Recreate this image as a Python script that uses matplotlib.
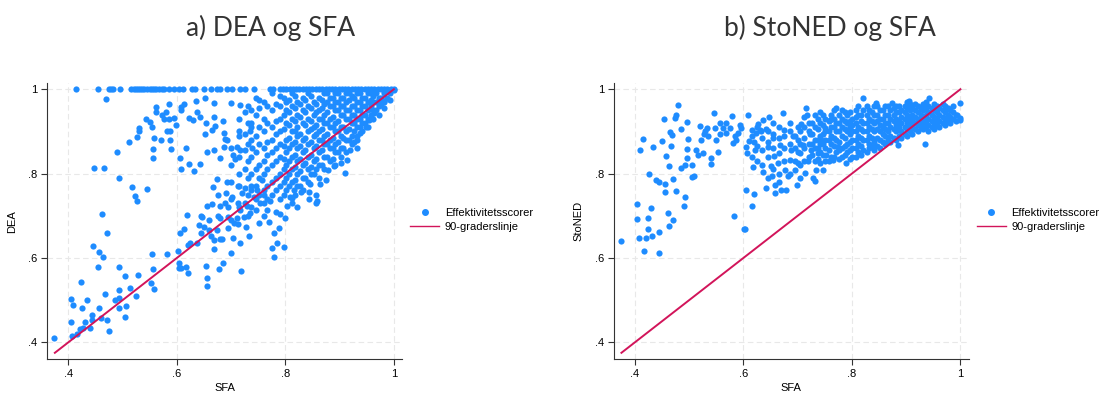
import numpy as np
import matplotlib
matplotlib.use("Agg")
import matplotlib.pyplot as plt
from matplotlib.lines import Line2D

plt.rcParams['font.family'] = ['Liberation Sans', 'DejaVu Sans']

# --- panel a: DEA vs SFA ---
# units with DEA = 1 (SFA values)
dea_one_sfa = [0.414, 0.454, 0.474, 0.478, 0.483, 0.495, 0.516, 0.520, 0.524, 0.528,
               0.532, 0.536, 0.540, 0.545, 0.550, 0.554, 0.558, 0.562, 0.567, 0.572,
               0.576, 0.585, 0.594, 0.603, 0.612, 0.628, 0.634, 0.650, 0.662, 0.674,
               0.680, 0.693, 0.702, 0.717, 0.726, 0.742, 0.772, 0.778, 0.790, 0.796,
               0.802, 0.808, 0.814, 0.820, 0.826, 0.832, 0.838, 0.844, 0.850, 0.856,
               0.862, 0.868, 0.874, 0.880, 0.886, 0.892, 0.898, 0.904, 0.910, 0.916,
               0.922, 0.928, 0.934, 0.940, 0.946, 0.952, 0.958, 0.964, 0.970, 0.976,
               0.982, 0.988, 0.994, 1.0]

# remaining units (SFA, DEA)
dea_points = [
    (0.374, 0.410), (0.407, 0.414), (0.416, 0.419), (0.405, 0.447), (0.404, 0.503),
    (0.409, 0.488), (0.425, 0.482), (0.423, 0.544), (0.434, 0.500), (0.430, 0.448),
    (0.421, 0.432), (0.427, 0.433), (0.439, 0.433), (0.443, 0.465), (0.443, 0.453),
    (0.445, 0.628), (0.454, 0.579), (0.457, 0.613), (0.463, 0.602), (0.457, 0.482),
    (0.462, 0.704), (0.461, 0.457), (0.468, 0.515), (0.471, 0.453), (0.471, 0.660),
    (0.474, 0.427), (0.448, 0.813), (0.465, 0.813), (0.489, 0.852), (0.493, 0.789),
    (0.470, 0.976), (0.511, 0.874), (0.517, 0.769), (0.523, 0.748), (0.527, 0.735),
    (0.544, 0.764), (0.527, 0.887), (0.530, 0.908), (0.530, 0.900), (0.543, 0.930),
    (0.551, 0.922), (0.554, 0.911), (0.557, 0.884), (0.556, 0.858), (0.556, 0.836),
    (0.561, 0.959), (0.562, 0.945), (0.572, 0.939), (0.570, 0.880), (0.576, 0.929),
    (0.580, 0.947), (0.581, 0.901), (0.586, 0.966), (0.586, 0.930), (0.588, 0.901),
    (0.587, 0.880), (0.590, 0.859), (0.598, 0.915), (0.594, 0.931), (0.607, 0.959),
    (0.607, 0.951), (0.613, 0.965), (0.605, 0.836), (0.607, 0.811), (0.617, 0.861),
    (0.622, 0.822), (0.622, 0.931), (0.630, 0.927), (0.632, 0.806), (0.636, 0.973),
    (0.637, 0.945), (0.643, 0.823), (0.643, 0.935), (0.651, 0.979), (0.652, 0.893),
    (0.653, 0.919), (0.656, 0.852), (0.664, 0.904), (0.668, 0.967), (0.668, 0.935),
    (0.668, 0.856), (0.671, 0.912), (0.680, 0.836), (0.685, 0.925), (0.686, 0.896),
    (0.686, 0.864), (0.688, 0.881), (0.693, 0.880), (0.700, 0.967), (0.704, 0.844),
    (0.708, 0.834), (0.711, 0.864), (0.714, 0.888), (0.717, 0.856), (0.717, 0.963),
    (0.734, 0.900), (0.737, 0.919), (0.739, 0.860), (0.752, 0.975),
    (0.494, 0.579), (0.494, 0.524), (0.493, 0.482), (0.485, 0.500), (0.493, 0.504),
    (0.505, 0.558), (0.507, 0.485), (0.505, 0.459), (0.513, 0.529), (0.525, 0.510),
    (0.528, 0.560),
    (0.554, 0.609), (0.556, 0.573), (0.553, 0.540), (0.557, 0.526), (0.582, 0.609),
    (0.602, 0.617), (0.604, 0.587), (0.603, 0.577), (0.608, 0.575), (0.616, 0.578),
    (0.620, 0.564), (0.605, 0.659), (0.613, 0.668), (0.618, 0.702), (0.620, 0.631),
    (0.625, 0.635), (0.637, 0.635), (0.641, 0.678), (0.647, 0.698), (0.650, 0.674),
    (0.653, 0.581), (0.655, 0.552), (0.656, 0.534), (0.656, 0.723), (0.659, 0.690),
    (0.659, 0.666), (0.662, 0.651), (0.665, 0.727), (0.666, 0.767), (0.668, 0.643),
    (0.668, 0.621), (0.674, 0.666), (0.674, 0.787), (0.677, 0.573), (0.680, 0.644),
    (0.683, 0.646), (0.685, 0.588), (0.680, 0.694), (0.680, 0.722), (0.688, 0.730),
    (0.690, 0.754), (0.693, 0.781), (0.695, 0.697), (0.699, 0.611), (0.702, 0.745),
    (0.704, 0.647), (0.705, 0.682), (0.710, 0.694), (0.716, 0.636), (0.719, 0.570),
    (0.717, 0.714), (0.720, 0.754), (0.723, 0.697), (0.727, 0.674), (0.730, 0.722),
    (0.733, 0.651), (0.735, 0.706), (0.736, 0.771), (0.742, 0.745), (0.745, 0.714),
    (0.748, 0.762), (0.751, 0.682), (0.754, 0.730), (0.757, 0.785), (0.760, 0.749),
    (0.766, 0.714), (0.770, 0.684), (0.772, 0.734), (0.775, 0.624), (0.779, 0.603),
    (0.779, 0.660), (0.782, 0.710), (0.784, 0.635), (0.788, 0.672), (0.791, 0.704),
    (0.797, 0.625), (0.800, 0.694), (0.803, 0.722), (0.808, 0.745), (0.812, 0.741),
    (0.821, 0.720), (0.815, 0.762), (0.828, 0.757), (0.843, 0.757), (0.843, 0.739),
    (0.845, 0.776), (0.857, 0.749), (0.857, 0.731), (0.858, 0.736), (0.863, 0.776),
    (0.874, 0.785), (0.878, 0.809), (0.890, 0.817), (0.902, 0.825), (0.910, 0.801),
    (0.913, 0.832), (0.920, 0.856), (0.932, 0.880), (0.938, 0.896), (0.948, 0.911),
    (0.954, 0.927), (0.963, 0.943), (0.975, 0.967), (0.982, 0.971), (1.000, 0.998),
]

# dense part of panel a, read column by column: SFA -> DEA values
dea_cloud = {
    0.700: [0.69, 0.74, 0.78, 0.82, 0.86],
    0.715: [0.72, 0.77, 0.80, 0.84, 0.90, 0.93],
    0.725: [0.73, 0.765, 0.81, 0.855, 0.895, 0.945],
    0.731: [0.70, 0.75, 0.79, 0.83, 0.87, 0.92, 0.96],
    0.737: [0.72, 0.76, 0.80, 0.84, 0.88, 0.91, 0.95],
    0.746: [0.74, 0.77, 0.81, 0.85, 0.89, 0.94, 0.98],
    0.752: [0.75, 0.79, 0.82, 0.87, 0.91, 0.955],
    0.761: [0.73, 0.76, 0.80, 0.83, 0.86, 0.90, 0.93, 0.97],
    0.767: [0.74, 0.77, 0.81, 0.845, 0.875, 0.92, 0.96],
    0.776: [0.75, 0.78, 0.82, 0.85, 0.88, 0.91, 0.95, 0.99],
    0.783: [0.76, 0.79, 0.83, 0.86, 0.895, 0.925, 0.965],
    0.790: [0.74, 0.77, 0.80, 0.84, 0.87, 0.90, 0.93, 0.96, 0.985],
    0.797: [0.75, 0.78, 0.81, 0.835, 0.865, 0.905, 0.94, 0.98],
    0.802: [0.76, 0.79, 0.82, 0.85, 0.88, 0.92, 0.95, 0.97],
    0.807: [0.77, 0.80, 0.83, 0.86, 0.885, 0.915, 0.945, 0.975],
    0.812: [0.73, 0.78, 0.81, 0.84, 0.87, 0.90, 0.93, 0.96, 0.99],
    0.817: [0.75, 0.785, 0.815, 0.845, 0.875, 0.90, 0.925, 0.955, 0.985],
    0.822: [0.77, 0.80, 0.83, 0.86, 0.89, 0.91, 0.94, 0.97],
    0.827: [0.77, 0.805, 0.835, 0.865, 0.895, 0.935, 0.965],
    0.832: [0.76, 0.79, 0.82, 0.85, 0.88, 0.92, 0.95, 0.98],
    0.837: [0.79, 0.825, 0.855, 0.885, 0.915, 0.945, 0.975],
    0.842: [0.78, 0.81, 0.84, 0.87, 0.90, 0.93, 0.96, 0.99],
    0.847: [0.80, 0.815, 0.845, 0.875, 0.905, 0.925, 0.955, 0.985],
    0.852: [0.80, 0.83, 0.86, 0.89, 0.91, 0.94, 0.97],
    0.857: [0.81, 0.835, 0.865, 0.895, 0.915, 0.945, 0.965],
    0.862: [0.79, 0.82, 0.85, 0.88, 0.90, 0.93, 0.95, 0.98],
    0.867: [0.82, 0.855, 0.88, 0.905, 0.93, 0.955, 0.975],
    0.872: [0.81, 0.84, 0.87, 0.89, 0.92, 0.94, 0.965, 0.99],
    0.877: [0.84, 0.87, 0.895, 0.92, 0.945, 0.97, 0.99],
    0.882: [0.83, 0.86, 0.88, 0.91, 0.93, 0.96, 0.98],
    0.887: [0.835, 0.86, 0.885, 0.91, 0.935, 0.96, 0.98],
    0.892: [0.82, 0.85, 0.87, 0.90, 0.92, 0.95, 0.97, 0.99],
    0.897: [0.85, 0.875, 0.90, 0.925, 0.95, 0.97, 0.99],
    0.902: [0.84, 0.86, 0.89, 0.91, 0.94, 0.96, 0.98],
    0.907: [0.86, 0.885, 0.91, 0.94, 0.96, 0.98],
    0.912: [0.85, 0.88, 0.90, 0.93, 0.95, 0.97, 0.99],
    0.917: [0.88, 0.905, 0.93, 0.95, 0.975, 0.99],
    0.922: [0.87, 0.89, 0.92, 0.94, 0.96, 0.985],
    0.927: [0.875, 0.90, 0.92, 0.94, 0.96, 0.98],
    0.932: [0.86, 0.89, 0.91, 0.93, 0.95, 0.97, 0.99],
    0.937: [0.91, 0.93, 0.95, 0.97, 0.99],
    0.942: [0.90, 0.92, 0.94, 0.96, 0.98],
    0.947: [0.92, 0.94, 0.96, 0.98],
    0.952: [0.91, 0.93, 0.95, 0.97, 0.99],
    0.957: [0.94, 0.96, 0.975, 0.99],
    0.962: [0.93, 0.95, 0.97, 0.985],
    0.967: [0.95, 0.97, 0.99],
    0.972: [0.94, 0.96, 0.98],
    0.977: [0.965, 0.98],
    0.982: [0.955, 0.97, 0.99],
    0.987: [0.98, 0.995],
    0.992: [0.975, 0.99],
    0.645: [0.66, 0.70],
    0.675: [0.70, 0.75],
    0.695: [0.67, 0.72],
    0.712: [0.68, 0.73, 0.77],
    0.760: [0.70],
}

# --- panel b: StoNED vs SFA (SFA, StoNED) ---
stoned_points = [
    (0.375, 0.640), (0.404, 0.727), (0.404, 0.692), (0.407, 0.648), (0.409, 0.855),
    (0.414, 0.882), (0.417, 0.617), (0.421, 0.647), (0.424, 0.694), (0.424, 0.669),
    (0.426, 0.798), (0.430, 0.719), (0.431, 0.651), (0.433, 0.864), (0.439, 0.785),
    (0.444, 0.611), (0.444, 0.661), (0.445, 0.781), (0.449, 0.878), (0.453, 0.930),
    (0.455, 0.757), (0.456, 0.776), (0.458, 0.842), (0.461, 0.706), (0.463, 0.819),
    (0.463, 0.675), (0.464, 0.898), (0.467, 0.866), (0.469, 0.892), (0.470, 0.690),
    (0.471, 0.787), (0.473, 0.931), (0.475, 0.939), (0.476, 0.758), (0.479, 0.962),
    (0.484, 0.906), (0.485, 0.814), (0.490, 0.722), (0.493, 0.745), (0.492, 0.820),
    (0.495, 0.923), (0.496, 0.836), (0.496, 0.858), (0.498, 0.881), (0.505, 0.792),
    (0.506, 0.821), (0.509, 0.795), (0.512, 0.856), (0.517, 0.843), (0.519, 0.913),
    (0.522, 0.880), (0.525, 0.848), (0.527, 0.895), (0.530, 0.901), (0.532, 0.908),
    (0.534, 0.888), (0.540, 0.822), (0.541, 0.838), (0.546, 0.943), (0.547, 0.908),
    (0.550, 0.880), (0.553, 0.852), (0.556, 0.893), (0.557, 0.919), (0.562, 0.908),
    (0.567, 0.919), (0.568, 0.897), (0.575, 0.909), (0.578, 0.937), (0.581, 0.872),
    (0.582, 0.700), (0.584, 0.889), (0.587, 0.880), (0.590, 0.897), (0.593, 0.915),
    (0.596, 0.908), (0.601, 0.668), (0.603, 0.668), (0.605, 0.762), (0.605, 0.862),
    (0.606, 0.848), (0.608, 0.939), (0.610, 0.878), (0.615, 0.904), (0.616, 0.722),
    (0.617, 0.815), (0.619, 0.876), (0.619, 0.751), (0.621, 0.856), (0.624, 0.897),
    (0.627, 0.917), (0.630, 0.904), (0.633, 0.902), (0.636, 0.927), (0.636, 0.804),
    (0.641, 0.765), (0.642, 0.906), (0.645, 0.864), (0.648, 0.935), (0.651, 0.817),
    (0.653, 0.795), (0.654, 0.884), (0.656, 0.842), (0.658, 0.754), (0.659, 0.773),
    (0.664, 0.826), (0.666, 0.848), (0.667, 0.868), (0.670, 0.762), (0.672, 0.943),
    (0.674, 0.904), (0.676, 0.809), (0.679, 0.762), (0.682, 0.795), (0.685, 0.832),
    (0.688, 0.856), (0.691, 0.888), (0.695, 0.809), (0.698, 0.773), (0.701, 0.825),
    (0.704, 0.848), (0.707, 0.917), (0.710, 0.868), (0.713, 0.801), (0.716, 0.955),
    (0.717, 0.939), (0.719, 0.829), (0.722, 0.893), (0.725, 0.856), (0.728, 0.790),
    (0.731, 0.782), (0.734, 0.809), (0.737, 0.848), (0.741, 0.825), (0.742, 0.947),
    (0.743, 0.880), (0.746, 0.809), (0.750, 0.908), (0.753, 0.844), (0.759, 0.927),
    (0.765, 0.832), (0.771, 0.955), (0.774, 0.864), (0.789, 0.825), (0.820, 0.979),
    (0.845, 0.968), (0.873, 0.967), (0.885, 0.868), (0.906, 0.972), (0.934, 0.870),
    (0.943, 0.979), (1.000, 0.967), (1.000, 0.931), (1.000, 0.926), (0.993, 0.939),
]

# dense band of panel b, column by column: SFA -> StoNED values
stoned_cloud = {
    0.615: [0.84, 0.89],
    0.625: [0.83, 0.865, 0.91],
    0.635: [0.82, 0.855, 0.885],
    0.645: [0.79, 0.84, 0.875, 0.90],
    0.655: [0.81, 0.86, 0.895, 0.92],
    0.665: [0.78, 0.80, 0.885, 0.91],
    0.675: [0.83, 0.86, 0.89],
    0.685: [0.80, 0.87, 0.90, 0.92],
    0.695: [0.83, 0.86, 0.89],
    0.700: [0.85, 0.88, 0.91],
    0.705: [0.79, 0.82, 0.87, 0.90],
    0.712: [0.83, 0.86, 0.885, 0.91, 0.935],
    0.720: [0.84, 0.87, 0.90, 0.92],
    0.727: [0.845, 0.87, 0.895, 0.92],
    0.731: [0.83, 0.86, 0.88, 0.91, 0.94],
    0.737: [0.835, 0.86, 0.88, 0.905, 0.93],
    0.741: [0.85, 0.87, 0.89, 0.92],
    0.747: [0.845, 0.87, 0.895, 0.915, 0.94],
    0.751: [0.83, 0.86, 0.88, 0.90, 0.93],
    0.757: [0.83, 0.855, 0.88, 0.90, 0.925],
    0.761: [0.84, 0.87, 0.89, 0.91, 0.94],
    0.767: [0.84, 0.865, 0.885, 0.91, 0.93, 0.95],
    0.771: [0.85, 0.88, 0.90, 0.92],
    0.777: [0.835, 0.855, 0.875, 0.90, 0.92, 0.94],
    0.781: [0.84, 0.86, 0.89, 0.91, 0.93, 0.95],
    0.787: [0.845, 0.865, 0.885, 0.905, 0.925, 0.945],
    0.791: [0.85, 0.87, 0.90, 0.92, 0.94],
    0.797: [0.835, 0.855, 0.875, 0.895, 0.91, 0.925, 0.945],
    0.801: [0.84, 0.86, 0.88, 0.90, 0.915, 0.93],
    0.807: [0.84, 0.86, 0.88, 0.90, 0.92, 0.935, 0.95],
    0.811: [0.85, 0.87, 0.89, 0.91, 0.94, 0.96],
    0.817: [0.845, 0.865, 0.885, 0.905, 0.925, 0.94],
    0.821: [0.855, 0.88, 0.90, 0.92, 0.95],
    0.827: [0.85, 0.88, 0.90, 0.92, 0.94, 0.96],
    0.831: [0.86, 0.87, 0.89, 0.91, 0.93, 0.95],
    0.837: [0.865, 0.885, 0.905, 0.925, 0.945],
    0.841: [0.855, 0.875, 0.90, 0.92, 0.94, 0.96],
    0.847: [0.865, 0.885, 0.905, 0.925, 0.94, 0.96],
    0.851: [0.86, 0.88, 0.90, 0.915, 0.93, 0.95],
    0.857: [0.875, 0.895, 0.91, 0.93, 0.95],
    0.861: [0.87, 0.89, 0.905, 0.92, 0.94, 0.96],
    0.867: [0.88, 0.90, 0.92, 0.94, 0.96],
    0.871: [0.875, 0.89, 0.91, 0.93, 0.95],
    0.877: [0.885, 0.905, 0.925, 0.94, 0.955],
    0.881: [0.88, 0.90, 0.915, 0.93, 0.945, 0.96],
    0.887: [0.89, 0.91, 0.925, 0.945, 0.96],
    0.891: [0.885, 0.90, 0.92, 0.935, 0.95],
    0.897: [0.895, 0.91, 0.93, 0.945, 0.96],
    0.901: [0.89, 0.905, 0.92, 0.94, 0.955, 0.97],
    0.907: [0.90, 0.915, 0.93, 0.95, 0.965],
    0.911: [0.895, 0.91, 0.925, 0.94, 0.955],
    0.917: [0.905, 0.92, 0.935, 0.95, 0.965],
    0.921: [0.90, 0.915, 0.93, 0.945, 0.96],
    0.927: [0.91, 0.925, 0.94, 0.955],
    0.931: [0.905, 0.92, 0.935, 0.95, 0.965],
    0.937: [0.91, 0.925, 0.94, 0.955, 0.97],
    0.941: [0.90, 0.915, 0.93, 0.945, 0.96],
    0.947: [0.91, 0.925, 0.94, 0.955],
    0.951: [0.905, 0.92, 0.935, 0.95, 0.965],
    0.957: [0.915, 0.93, 0.945, 0.96],
    0.961: [0.91, 0.925, 0.94, 0.955],
    0.967: [0.92, 0.935, 0.95, 0.965],
    0.971: [0.915, 0.93, 0.945, 0.96],
    0.977: [0.925, 0.94, 0.955],
    0.981: [0.92, 0.935, 0.95],
    0.987: [0.93, 0.945, 0.96],
    0.991: [0.925, 0.94],
}

line_vals = [0.375, 1.0]
ticks = [0.4, 0.6, 0.8, 1.0]
tick_labels = ['.4', '.6', '.8', '1']

dot_color = '#1e8cff'
line_color = '#d2145a'


def collect(points, cloud, extra_x=(), extra_y=1.0):
    xs = [p[0] for p in points] + list(extra_x)
    ys = [p[1] for p in points] + [extra_y] * len(extra_x)
    for cx, col in cloud.items():
        xs += [cx] * len(col)
        ys += col
    return np.array(xs), np.array(ys)


fig = plt.figure(figsize=(11.12, 3.94), dpi=100)
ax_a = fig.add_axes([0.0425, 0.0885, 0.319, 0.700])
ax_b = fig.add_axes([0.552, 0.0885, 0.319, 0.700])

xa, ya = collect(dea_points, dea_cloud, dea_one_sfa)
xb, yb = collect(stoned_points, stoned_cloud)

ax_a.scatter(xa, ya, s=20, color=dot_color, linewidths=0, zorder=2)
ax_b.scatter(xb, yb, s=20, color=dot_color, linewidths=0, zorder=2)

for ax, ylab in [(ax_a, 'DEA'), (ax_b, 'StoNED')]:
    ax.plot(line_vals, line_vals, color=line_color, lw=1.4, zorder=3)
    ax.set_xlim(0.361, 1.015)
    ax.set_ylim(0.36, 1.014)
    ax.set_xticks(ticks)
    ax.set_xticklabels(tick_labels)
    ax.set_yticks(ticks)
    ax.set_yticklabels(tick_labels)
    ax.grid(True, color='#e8e8e8', linestyle=(0, (5, 3)), lw=0.8, zorder=0)
    ax.set_axisbelow(True)
    for s in ['top', 'right']:
        ax.spines[s].set_visible(False)
    for s in ['left', 'bottom']:
        ax.spines[s].set_color('#333333')
        ax.spines[s].set_linewidth(0.8)
    ax.tick_params(axis='both', labelsize=8, length=4, width=0.8, color='#333333', pad=3)
    ax.set_xlabel('SFA', fontsize=8, labelpad=3)
    ax.set_ylabel(ylab, fontsize=8, labelpad=8)
    handles = [Line2D([], [], marker='o', color=dot_color, linestyle='none', markersize=4),
               Line2D([], [], color=line_color, lw=1)]
    ax.legend(handles, ['Effektivitetsscorer', '90-graderslinje'], loc='center left',
              bbox_to_anchor=(0.995, 0.505), frameon=False, fontsize=8,
              handlelength=2.6, handletextpad=0.5, labelspacing=0.3)

fig.text(0.243, 0.93, 'a) DEA og SFA', ha='center', va='center', fontsize=19,
         family=['Lato', 'DejaVu Sans'], fontweight='normal', color='#333333')
fig.text(0.746, 0.93, 'b) StoNED og SFA', ha='center', va='center', fontsize=19,
         family=['Lato', 'DejaVu Sans'], fontweight='normal', color='#333333')

fig.savefig('out.png', dpi=100)
